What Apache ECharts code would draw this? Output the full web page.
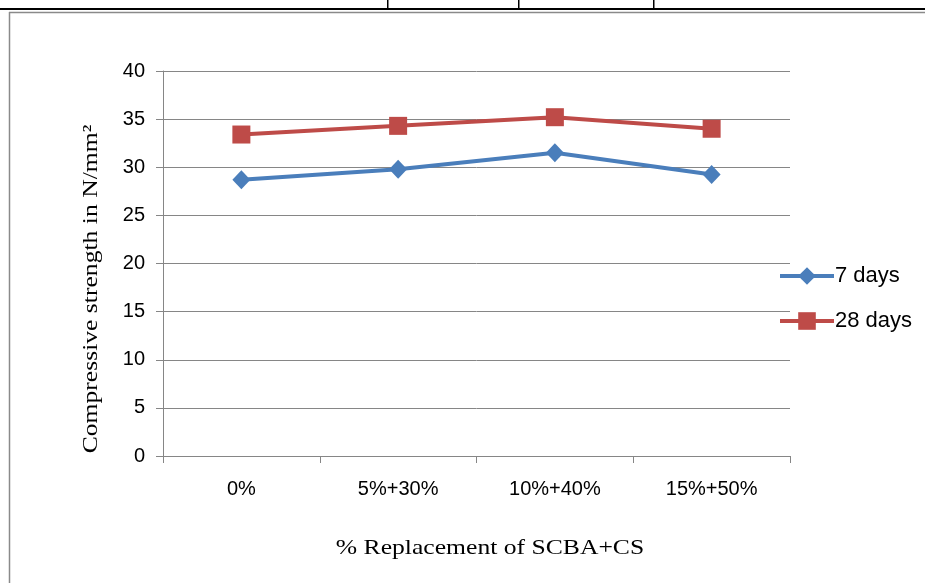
<!DOCTYPE html>
<html>
<head>
<meta charset="utf-8">
<script src="https://cdn.jsdelivr.net/npm/echarts@6/dist/echarts.min.js"></script>
<style>
html,body{margin:0;padding:0;background:#fff;}
#chart{width:925px;height:583px;}
</style>
</head>
<body>
<div id="chart"></div>
<script>
const categories = ['0%', '5%+30%', '10%+40%', '15%+50%'];
const days7 = [28.7, 29.8, 31.5, 29.25];
const days28 = [33.4, 34.3, 35.2, 34.0];
const yTicks = { min: 0, max: 40, interval: 5 };
const xTitle = '% Replacement of SCBA+CS';
const yTitle = 'Compressive strength in N/mm²';

const chart = echarts.init(document.getElementById('chart'));
const gray = '#868686';
chart.setOption({
  animation: false,
  backgroundColor: '#fff',
  grid: { left: 163, right: 135, top: 71, bottom: 127, containLabel: false },
  xAxis: {
    type: 'category',
    data: categories,
    boundaryGap: true,
    axisLine: { lineStyle: { color: gray, width: 1 } },
    axisTick: { show: true, length: 7, lineStyle: { color: gray } },
    axisLabel: { fontFamily: 'Liberation Sans', fontSize: 20, color: '#000', margin: 23 },
    splitLine: { show: false }
  },
  yAxis: {
    type: 'value',
    min: yTicks.min, max: yTicks.max, interval: yTicks.interval,
    axisLine: { show: true, lineStyle: { color: gray, width: 1 } },
    axisTick: { show: true, length: 7, lineStyle: { color: gray } },
    axisLabel: { fontFamily: 'Liberation Sans', fontSize: 20, color: '#000', margin: 18 },
    splitLine: { show: true, lineStyle: { color: gray, width: 1 } }
  },
  legend: {
    orient: 'vertical',
    left: 773,
    top: 260,
    itemWidth: 54,
    itemHeight: 22,
    itemGap: 23,
    lineStyle: { width: 4 },
    textStyle: { fontFamily: 'Liberation Sans', fontSize: 22, color: '#000', padding: [0,0,0,-4] },
    data: ['7 days', '28 days']
  },
  series: [
    {
      name: '7 days', type: 'line', data: days7,
      symbol: 'diamond', symbolSize: [18, 19],
      lineStyle: { color: '#4A7EBB', width: 4 },
      itemStyle: { color: '#4A7EBB' }
    },
    {
      name: '28 days', type: 'line', data: days28,
      symbol: 'rect', symbolSize: 18,
      lineStyle: { color: '#BE4B48', width: 4 },
      itemStyle: { color: '#BE4B48' }
    }
  ],
  graphic: [
    { type: 'rect', shape: { x: 0, y: 8, width: 925, height: 2 }, style: { fill: '#000' } },
    { type: 'rect', shape: { x: 387, y: 0, width: 1.5, height: 9 }, style: { fill: '#000' } },
    { type: 'rect', shape: { x: 518, y: 0, width: 1.5, height: 9 }, style: { fill: '#000' } },
    { type: 'rect', shape: { x: 653, y: 0, width: 1.5, height: 9 }, style: { fill: '#000' } },
    { type: 'line', shape: { x1: 9, y1: 12.5, x2: 925, y2: 12.5 }, style: { stroke: '#8a8a8a', lineWidth: 1.5 } },
    { type: 'line', shape: { x1: 9.5, y1: 12, x2: 9.5, y2: 583 }, style: { stroke: '#8a8a8a', lineWidth: 1.5 } },
    { type: 'text', x: 490, y: 548, scaleX: 1.22,
      style: { text: xTitle, font: '21px "Liberation Serif"', fill: '#000', align: 'center', verticalAlign: 'middle' } },
    { type: 'text', x: 91, y: 289, rotation: Math.PI / 2, scaleX: 1.22,
      style: { text: yTitle, font: '21px "Liberation Serif"', fill: '#000', align: 'center', verticalAlign: 'middle' } }
  ]
});
</script>
</body>
</html>
